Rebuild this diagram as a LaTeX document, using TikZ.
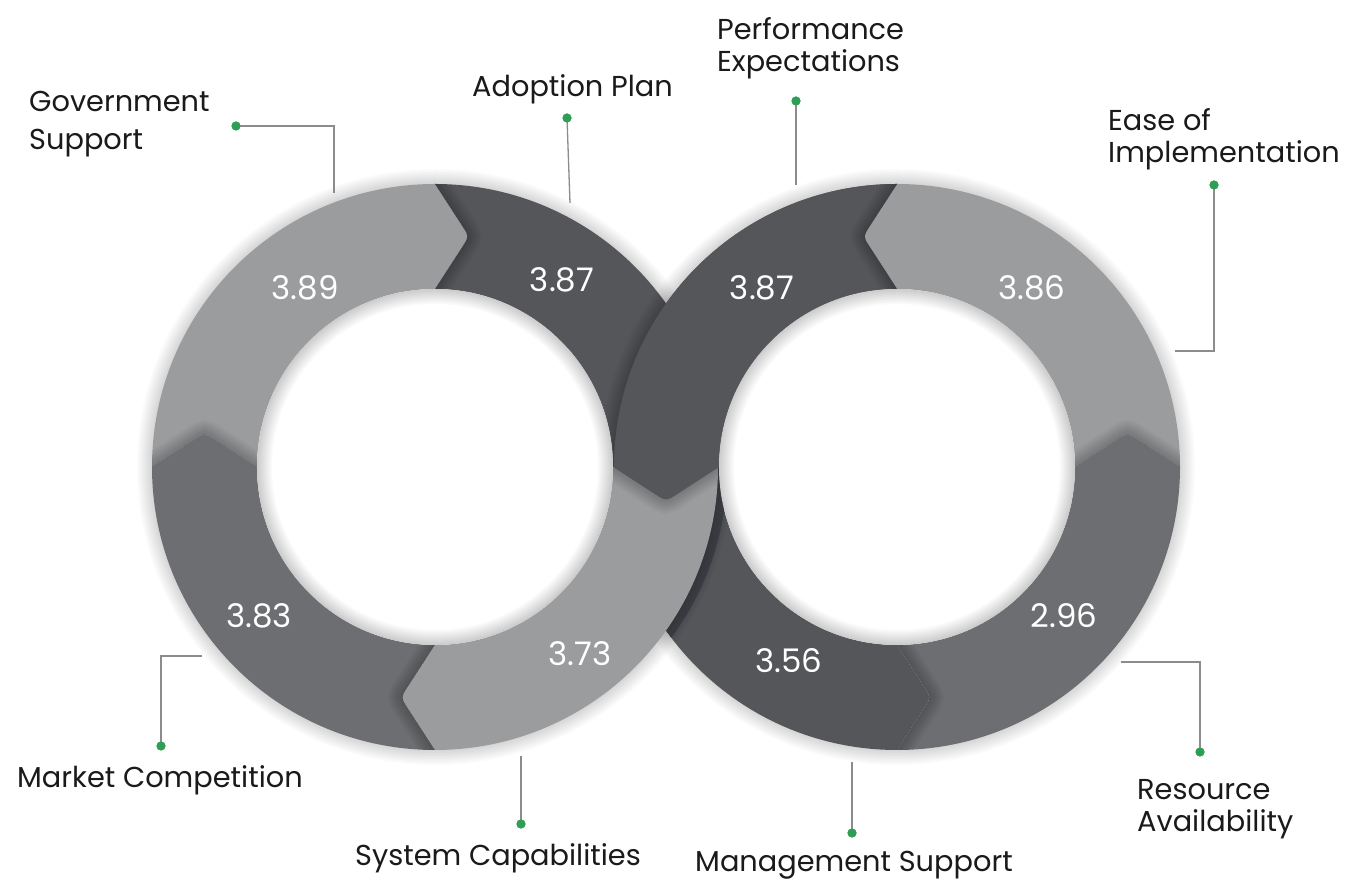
\documentclass[tikz,border=0pt]{standalone}
\usepackage{fontspec}
\setmainfont[Ligatures=NoCommon]{Poppins}
\usetikzlibrary{calc}
\definecolor{lightg}{HTML}{9B9C9E}
\definecolor{darkg}{HTML}{555659}
\definecolor{midg}{HTML}{6D6E71}
\definecolor{leadc}{HTML}{8C8C8C}
\definecolor{dotc}{HTML}{2E9E55}
\definecolor{shadowb}{HTML}{3E424C}
\definecolor{txt}{HTML}{1A1A1A}
\newcommand{\RO}{283}
\newcommand{\RI}{178}
\newcommand{\RM}{230.5}
\newcommand{\DT}{34}
\newcommand{\chevdef}[4]{%
  \coordinate (#1o) at ($(#2)+(#3:\RO)$);
  \coordinate (#1i) at ($(#2)+(#3:\RI)$);
  \coordinate (#1t) at ($(#2)+(#3:\RM)+(#3+90:#4*\DT)$);
  \coordinate (#1a) at ($(#1t)!12pt!(#1o)$);
  \coordinate (#1b) at ($(#1t)!12pt!(#1i)$);}
\newcommand{\segpath}[4]{(#1o) arc[start angle=#3,end angle=#4,radius=283pt] -- (#2a) .. controls (#2t) .. (#2b) -- (#2i) arc[start angle=#4,end angle=#3,radius=178pt] -- (#1b) .. controls (#1t) .. (#1a) -- cycle}
\newcommand{\chevline}[1]{(#1o) -- (#1a) .. controls (#1t) .. (#1b) -- (#1i)}
\newcommand{\chevshadow}[5]{\begin{scope}\clip \segpath{#1}{#2}{#3}{#4};
  \foreach \w in {4,8,...,28} \draw[black,opacity=0.03,line width=\w pt] \chevline{#5};\end{scope}}
\newcommand{\halo}[2]{\foreach \w in {3,6,...,30} \draw[black,opacity=0.016,line width=\w pt] (#1) circle[radius=#2pt];}
\newcommand{\hole}[1]{\fill[white] (#1) circle[radius=178pt];
  \begin{scope}\clip (#1) circle[radius=178pt];
  \foreach \w in {3,6,...,30} \draw[black,opacity=0.02,line width=\w pt] (#1) circle[radius=178pt];\end{scope}}
\tikzset{
  lbl/.style={anchor=base west,inner sep=0,text=txt,font=\fontsize{28.8}{33}\selectfont},
  num/.style={text=white,inner sep=0,font=\fontsize{32.5}{38}\selectfont},
  leadline/.style={draw=leadc,line width=1.3pt},
  dotn/.style={circle,fill=dotc,minimum size=9pt,inner sep=0}
}
\begin{document}
\begin{tikzpicture}[x=1pt,y=1pt]
\useasboundingbox (0,0) rectangle (1345,883);
\fill[white] (0,0) rectangle (1345,883);
\coordinate (C1) at (435,416);
\coordinate (C2) at (897,416);
\chevdef{L0}{C1}{0}{-1}
\chevdef{L90}{C1}{90}{-1}
\chevdef{L180}{C1}{180}{-1}
\chevdef{L270}{C1}{270}{-1}
\chevdef{R0}{C2}{0}{1}
\chevdef{R90}{C2}{90}{1}
\chevdef{R180}{C2}{180}{1}
\chevdef{R270}{C2}{270}{1}
% right ring
\halo{C2}{283}
\fill[lightg] \segpath{R0}{R90}{0}{90};
\fill[darkg] \segpath{R90}{R180}{90}{180};
\fill[darkg] \segpath{R180}{R270}{180}{270};
\fill[midg] \segpath{R270}{R0}{270}{360};
\chevshadow{R0}{R90}{0}{90}{R0}
\chevshadow{R180}{R270}{180}{270}{R180}
\chevshadow{R270}{R0}{270}{360}{R270}
% crescent shadow in lower lens
\begin{scope}
  \clip (C2) circle[radius=283pt];
  \clip (380,100) rectangle (780,416);
  \fill[shadowb] ($(C1)+(9,-2)$) circle[radius=283pt];
\end{scope}
% left ring
\halo{C1}{283}
\fill[lightg] \segpath{L90}{L180}{90}{180};
\fill[darkg] \segpath{L0}{L90}{0}{90};
\fill[midg] \segpath{L180}{L270}{180}{270};
\fill[lightg] \segpath{L270}{L0}{270}{360};
\chevshadow{L0}{L90}{0}{90}{L90}
\chevshadow{L90}{L180}{90}{180}{L180}
\chevshadow{L180}{L270}{180}{270}{L270}
\chevshadow{L270}{L0}{270}{360}{L0}
% right ring upper-left segment over the left ring
\begin{scope}
  \clip (C1) circle[radius=283pt];
  \clip (500,416) rectangle (780,800);
  \halo{C2}{283}
\end{scope}
\fill[darkg] \segpath{R90}{R180}{90}{180};
\chevshadow{R90}{R180}{90}{180}{R90}
% holes
\hole{C1}
\hole{C2}
% values
\node[num] (v1) at (305,595) {3.89};
\node[num] (v2) at (562,603) {3.87};
\node[num] (v3) at (762,595) {3.87};
\node[num] (v4) at (1032,595) {3.86};
\node[num] (v5) at (259,267) {3.83};
\node[num] (v6) at (580,229) {3.73};
\node[num] (v7) at (789,222) {3.56};
\node[num] (v8) at (1064,267) {2.96};
% leaders
\node[dotn] (gd) at (236,757) {};
\coordinate (ge) at (334,690);
\draw[leadline] (gd.center) -| (ge);
\node[dotn] (ad) at (567,765) {};
\coordinate (ae) at (570,680);
\draw[leadline] (ad.center) -- (ae);
\node[dotn] (pd) at (796,782) {};
\coordinate (pe) at (796,698);
\draw[leadline] (pd.center) -- (pe);
\node[dotn] (ed) at (1214,698) {};
\coordinate (ee) at (1175,532);
\draw[leadline] (ed.center) |- (ee);
\node[dotn] (md) at (161,137) {};
\coordinate (me) at (202,227);
\draw[leadline] (md.center) |- (me);
\node[dotn] (sd) at (521,59) {};
\coordinate (se) at (521,127);
\draw[leadline] (sd.center) -- (se);
\node[dotn] (nd) at (852,50) {};
\coordinate (ne) at (852,121);
\draw[leadline] (nd.center) -- (ne);
\node[dotn] (rd) at (1200,131) {};
\coordinate (re) at (1121,221);
\draw[leadline] (rd.center) |- (re);
\foreach \d in {gd,ad,pd,ed,md,sd,nd,rd} \fill[dotc] (\d) circle[radius=4.5pt];
% labels
\node[lbl] (g1) at (29,771) {Government};
\node[lbl] (g2) at (29,733) {Support};
\node[lbl] (a1) at (472,786) {Adoption Plan};
\node[lbl] (p1) at (717,843) {Performance};
\node[lbl] (p2) at (717,811) {Expectations};
\node[lbl] (e1) at (1108,752) {Ease of};
\node[lbl] (e2) at (1108,720) {Implementation};
\node[lbl] (m1) at (17,95) {Market Competition};
\node[lbl] (s1) at (355,17) {System Capabilities};
\node[lbl] (n1) at (695,11) {Management Support};
\node[lbl] (r1) at (1137,83) {Resource};
\node[lbl] (r2) at (1137,51) {Availability};
\end{tikzpicture}
\end{document}
